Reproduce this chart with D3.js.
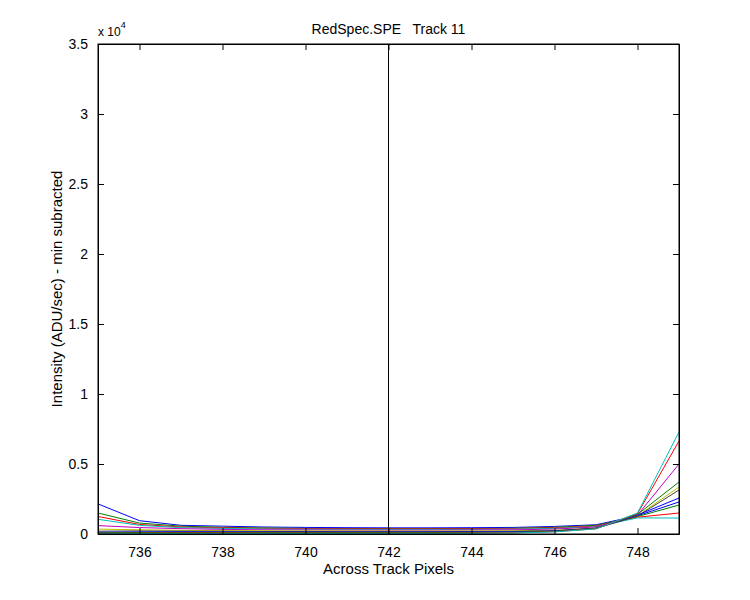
<!DOCTYPE html>
<html>
<head>
<meta charset="utf-8">
<script src="https://cdn.jsdelivr.net/npm/d3@7"></script>
<style>
body { margin: 0; background: #fff; }
text { font-family: "Liberation Sans", Arial, sans-serif; }
</style>
</head>
<body>
<script>
// across track pixel positions
var pixels = [735, 736, 737, 738, 739, 740, 741, 742, 743, 744, 745, 746, 747, 748, 749];

// intensity profiles (ADU/sec), one per row
var s1  = [2150, 950, 620, 560, 500, 470, 450, 440, 440, 450, 470, 540, 660, 1300, 2290];
var s2  = [1500, 780, 560, 480, 430, 400, 390, 380, 380, 390, 410, 480, 620, 1250, 2070];
var s3  = [1250, 680, 500, 440, 400, 380, 370, 360, 360, 370, 390, 440, 560, 1200, 1500];
var s4  = [1050, 620, 450, 400, 360, 340, 330, 320, 320, 330, 350, 400, 520, 1150, 1140];
var s5  = [600, 460, 380, 330, 300, 290, 280, 280, 280, 290, 300, 350, 500, 1350, 5000];
var s6  = [350, 300, 260, 240, 230, 220, 220, 210, 210, 220, 230, 270, 430, 1300, 3360];
var s7  = [200, 220, 200, 190, 180, 180, 170, 170, 170, 180, 190, 230, 400, 1280, 3140];
var s8  = [120, 150, 160, 150, 140, 140, 140, 140, 140, 150, 160, 220, 420, 1350, 2570];
var s9  = [80, 110, 110, 100, 100, 100, 100, 100, 100, 110, 120, 190, 400, 1400, 3710];
var s10 = [40, 60, 70, 70, 60, 60, 60, 60, 60, 70, 90, 160, 380, 1450, 6640];
var s11 = [10, 30, 40, 40, 40, 40, 40, 40, 40, 50, 70, 150, 360, 1500, 7290];
var series = [s1, s2, s3, s4, s5, s6, s7, s8, s9, s10, s11];

var colors = ["#0000ff", "#008000", "#ff0000", "#00bfbf", "#bf00bf", "#bfbf00", "#404040"];

var xTicks = [736, 738, 740, 742, 744, 746, 748];
var yTicks = [0, 5000, 10000, 15000, 20000, 25000, 30000, 35000];
var markerX = 742;

var w = 750, h = 600;
var padL = 98, padR = 679, padT = 44, padB = 534;

var svg = d3.select("body").append("svg")
	.attr("width", w)
	.attr("height", h);

var x = d3.scaleLinear().domain([735, 749]).range([padL, padR]);
var y = d3.scaleLinear().domain([0, 35000]).range([padB, padT]);

var line = d3.line()
	.x(function(d, i){ return x(pixels[i]); })
	.y(function(d){ return y(d); });

svg.selectAll(".trace")
	.data(series)
	.enter()
	.append("path")
	.attr("class", "trace")
	.attr("d", line)
	.attr("fill", "none")
	.attr("stroke", function(d, i){ return colors[i % colors.length]; })
	.attr("stroke-width", 1);

// vertical marker
svg.append("line")
	.attr("x1", x(markerX)).attr("x2", x(markerX))
	.attr("y1", padT).attr("y2", padB)
	.attr("stroke", "black");

// axes with inward ticks on all four sides
var tickLen = 6;
svg.append("g")
	.attr("transform", "translate(0," + padB + ")")
	.call(d3.axisBottom(x).tickValues(xTicks).tickSizeInner(-tickLen).tickSizeOuter(0).tickPadding(13));
svg.append("g")
	.attr("transform", "translate(0," + padT + ")")
	.call(d3.axisTop(x).tickValues(xTicks).tickSizeInner(-tickLen).tickSizeOuter(0).tickFormat(""));
svg.append("g")
	.attr("transform", "translate(" + padL + ",0)")
	.call(d3.axisLeft(y).tickValues(yTicks).tickSizeInner(-tickLen).tickSizeOuter(0).tickPadding(10)
		.tickFormat(function(d){ return d / 10000; }));
svg.append("g")
	.attr("transform", "translate(" + padR + ",0)")
	.call(d3.axisRight(y).tickValues(yTicks).tickSizeInner(-tickLen).tickSizeOuter(0).tickFormat(""));

svg.selectAll(".domain").attr("stroke", "black");
svg.selectAll(".tick line").attr("stroke", "black");
svg.selectAll(".tick text").attr("font-size", 14).attr("fill", "black")
	.attr("font-family", "Liberation Sans, Arial, sans-serif");

svg.append("rect")
	.attr("x", padL).attr("y", padT)
	.attr("width", padR - padL).attr("height", padB - padT)
	.attr("fill", "none").attr("stroke", "black");

// exponent label
var ex = svg.append("text").attr("x", 98).attr("y", 36).attr("font-size", 12);
ex.append("tspan").text("x 10");
ex.append("tspan").attr("dy", -8).attr("font-size", 9).text("4");

svg.append("text")
	.attr("x", (padL + padR) / 2).attr("y", 34)
	.attr("text-anchor", "middle").attr("font-size", 14)
	.attr("xml:space", "preserve")
	.text("RedSpec.SPE   Track 11");

svg.append("text")
	.attr("x", (padL + padR) / 2).attr("y", 574)
	.attr("text-anchor", "middle").attr("font-size", 15)
	.text("Across Track Pixels");

svg.append("text")
	.attr("transform", "translate(62," + (padT + padB) / 2 + ") rotate(-90)")
	.attr("text-anchor", "middle").attr("font-size", 15)
	.text("Intensity (ADU/sec) - min subracted");
</script>
</body>
</html>
